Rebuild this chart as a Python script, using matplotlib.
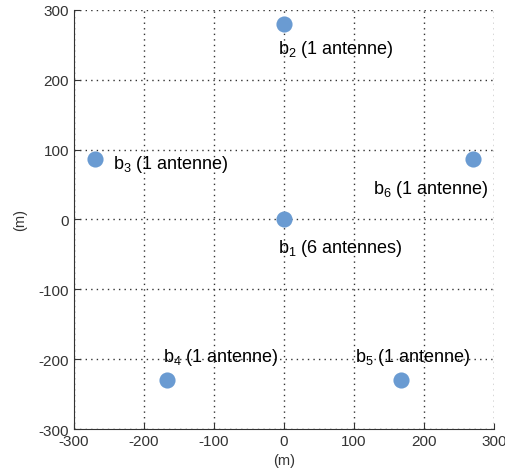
import matplotlib.pyplot as plt

# station positions (m)
names = ["b_1", "b_2", "b_3", "b_4", "b_5", "b_6"]
antennes = ["(6 antennes)", "(1 antenne)", "(1 antenne)", "(1 antenne)", "(1 antenne)", "(1 antenne)"]
x = [0, 0, -270, -167, 167, 270]
y = [0, 280, 87, -230, -230, 87]
# label anchor (left, centre)
lx = [-8, -8, -244, -173, 101, 128]
ly = [-40, 245, 80, -196, -196, 44]

plt.rcParams['font.family'] = ['Liberation Sans', 'DejaVu Sans']
plt.rcParams['axes.unicode_minus'] = False

fig = plt.figure(figsize=(5.06, 4.77), dpi=100)
ax = fig.add_axes([0.146, 0.0985, 0.83, 0.8785])

ax.scatter(x, y, s=135, color='#6a9bd2', zorder=3, linewidths=0)
for i in range(len(x)):
    ax.text(lx[i], ly[i], "$\\mathregular{" + names[i].replace("_", "_{") + "}}$ " + antennes[i],
            fontsize=13, va='center', ha='left', zorder=4)

ax.set_xlim(-300, 300)
ax.set_ylim(-300, 300)
ax.set_xticks(range(-300, 301, 100))
ax.set_yticks(range(-300, 301, 100))
ax.grid(True, linestyle=(0, (1, 3)), color='#333333', linewidth=1)
ax.spines['top'].set_visible(False)
ax.spines['right'].set_visible(False)
ax.spines['left'].set_color('#333333')
ax.spines['bottom'].set_color('#333333')
ax.tick_params(direction='in', length=4, colors='#333333', labelsize=11)
ax.set_xlabel("(m)", fontsize=10.5, color='#333333', labelpad=4)
ax.set_ylabel("(m)", fontsize=10.5, color='#333333', labelpad=8)

fig.savefig("out.png", dpi=100)
